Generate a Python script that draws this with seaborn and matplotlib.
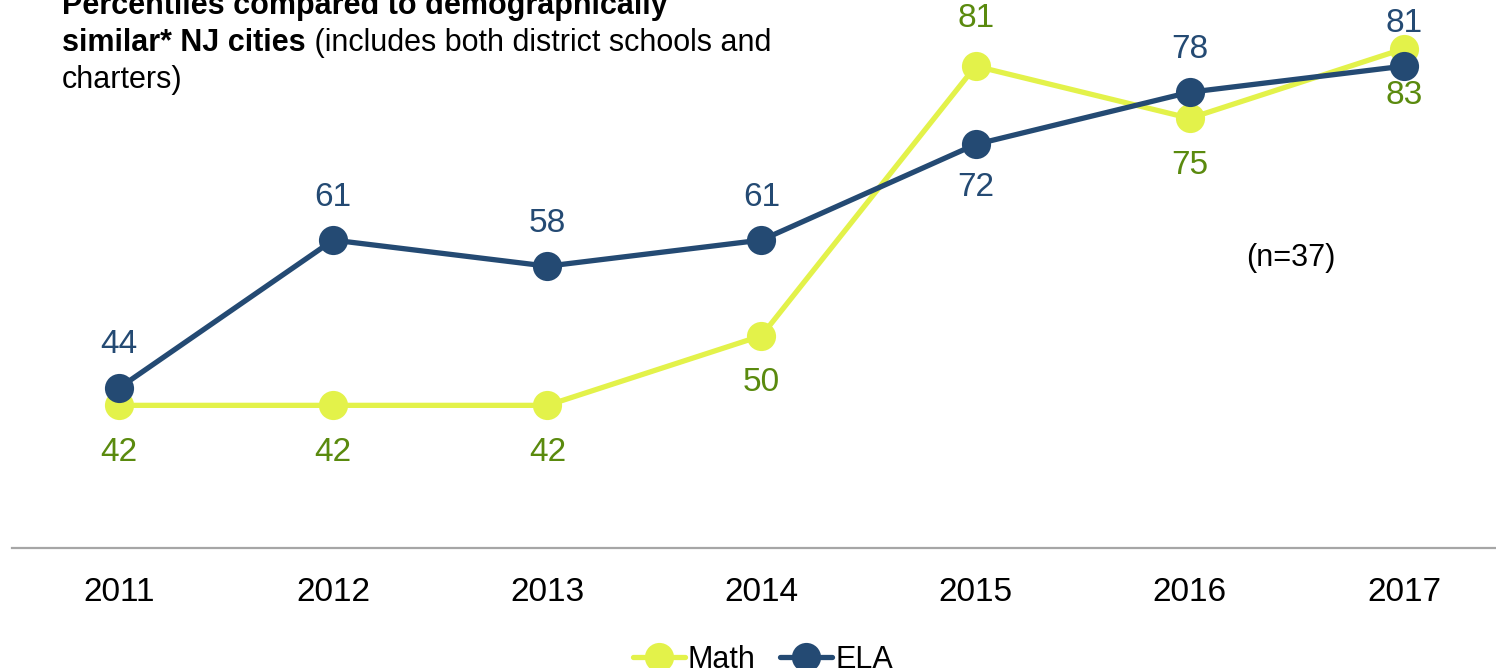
import pandas as pd
import matplotlib.pyplot as plt
import seaborn as sns
from matplotlib.lines import Line2D

years = [2011, 2012, 2013, 2014, 2015, 2016, 2017]
math = [42, 42, 42, 50, 81, 75, 83]
ela = [44, 61, 58, 61, 72, 78, 81]

# label placement: +1 above the point, -1 below
math_side = [-1, -1, -1, -1, 1, -1, -1]
ela_side = [1, 1, 1, 1, -1, 1, 1]

math_color = "#e3f24a"
math_text = "#5a8a0e"
ela_color = "#244a73"

df = pd.DataFrame({
    "Year": years * 2,
    "Percentile": math + ela,
    "Subject": ["Math"] * len(years) + ["ELA"] * len(years),
})

sns.set_theme(style="white")
plt.rcParams["font.family"] = ["Liberation Sans", "DejaVu Sans"]
plt.rcParams["text.color"] = "black"
plt.rcParams["xtick.color"] = "black"

fig = plt.figure(figsize=(14.96, 6.68), dpi=100)
ax = fig.add_axes([12 / 1496, 120 / 668, 1484 / 1496, 548 / 668])

sns.lineplot(data=df, x="Year", y="Percentile", hue="Subject",
             hue_order=["Math", "ELA"],
             palette={"Math": math_color, "ELA": ela_color},
             marker="o", markersize=21, markeredgewidth=0, linewidth=3.8,
             legend=False, ax=ax)

for yr, v, s in zip(years, math, math_side):
    ax.annotate(str(v), (yr, v), xytext=(0, 34 * s), textcoords="offset points",
                ha="center", va="center", fontsize=24, color=math_text)
for yr, v, s in zip(years, ela, ela_side):
    ax.annotate(str(v), (yr, v), xytext=(0, 31 * s), textcoords="offset points",
                ha="center", va="center", fontsize=24, color=ela_color)

ax.set_xlim(2010.5, 2017.43)
ax.set_ylim(25.6, 88.6)
ax.set_xticks(years)
ax.set_xticklabels([str(y) for y in years], fontsize=24)
ax.tick_params(axis="x", length=0, pad=21)
ax.set_yticks([])
ax.set_xlabel("")
ax.set_ylabel("")
for side in ["left", "top", "right"]:
    ax.spines[side].set_visible(False)
ax.spines["bottom"].set_color("#a6a6a6")
ax.spines["bottom"].set_linewidth(1.6)

fig.text(1291 / 1496, 1 - 258 / 668, "(n=37)", ha="center", va="center", fontsize=22)

# title block, partially cut off at the top
fig.text(62 / 1496, 1 - 14 / 668, "Percentiles compared to demographically",
         fontsize=22, fontweight="bold", va="baseline", ha="left")
bold2 = fig.text(62 / 1496, 1 - 51 / 668, "similar* NJ cities",
                 fontsize=22, fontweight="bold", va="baseline", ha="left")
ax.annotate(" (includes both district schools and", xy=(1, 0), xycoords=bold2,
            fontsize=22, va="bottom", ha="left", annotation_clip=False)
fig.text(62 / 1496, 1 - 88 / 668, "charters)", fontsize=22, va="baseline", ha="left")

handles = [
    Line2D([], [], color=math_color, marker="o", markersize=21, markeredgewidth=0, linewidth=3.8),
    Line2D([], [], color=ela_color, marker="o", markersize=21, markeredgewidth=0, linewidth=3.8),
]
fig.legend(handles, ["Math", "ELA"], loc="center", bbox_to_anchor=(0.51, 0.012),
           ncol=2, frameon=False, fontsize=22, handlelength=1.7, handletextpad=0.1,
           columnspacing=0.8)

fig.savefig("out.png", dpi=100)
